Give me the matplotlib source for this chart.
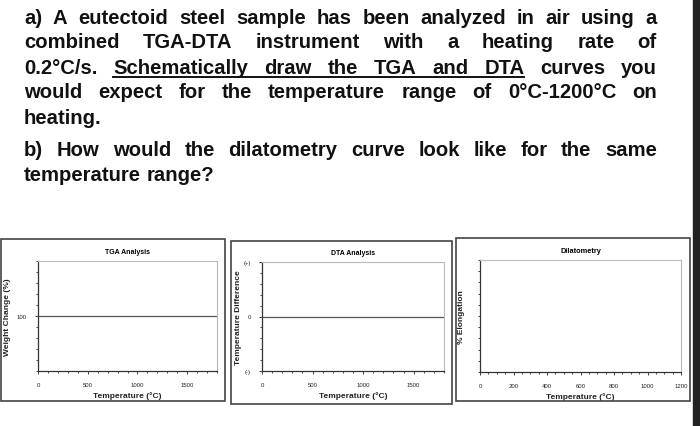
import matplotlib
matplotlib.use("Agg")
import matplotlib.pyplot as plt
from matplotlib.patches import Rectangle
from matplotlib.ticker import MultipleLocator

plt.rcParams['font.family'] = ['Liberation Sans', 'DejaVu Sans']

W, H = 700, 427
lines = [
    ("a) A eutectoid steel sample has been analyzed in air using a", True),
    ("combined TGA-DTA instrument with a heating rate of", True),
    ("0.2°C/s. Schematically draw the TGA and DTA curves you", True),
    ("would expect for the temperature range of 0°C-1200°C on", True),
    ("heating.", False),
    ("b) How would the dilatometry curve look like for the same", True),
    ("temperature range?", False),
]
line_y = [18, 43, 68, 93, 118, 151, 176]
underline_words = {2: (1, 7)}

tga_x = [0, 1800]; tga_y = [100, 100]
tga_xticks = [0, 500, 1000, 1500]
dta_x = [0, 1800]; dta_y = [0, 0]
dta_xticks = [0, 500, 1000, 1500]
dta_yticks = [1, 0, -1]; dta_ylabels = ["(+)", "0", "(-)"]
dil_xticks = [0, 200, 400, 600, 800, 1000, 1200]

fig = plt.figure(figsize=(7, 4.27), dpi=100)
fig.patch.set_facecolor('white')

def px(x, y):
    return x / W, 1 - y / H

renderer = fig.canvas.get_renderer()
x0, x1 = 24, 657
fs = 14.6
def width(s):
    t = fig.text(0, 0, s, fontsize=fs, fontweight='bold')
    w = t.get_window_extent(renderer).width
    t.remove()
    return w
spw = width('a b') - width('ab')
for i, ((txt, just), y) in enumerate(zip(lines, line_y)):
    words = txt.split(' ')
    widths = [width(w) for w in words]
    gap = (x1 - x0 - sum(widths)) / (len(words) - 1) if just else spw
    x = x0
    pos = []
    for w, wd in zip(words, widths):
        fx, fy = px(x, y)
        fig.text(fx, fy, w, fontsize=fs, fontweight='bold', va='center', ha='left', color='#111')
        pos.append((x, wd))
        x += wd + gap
    if i in underline_words:
        a, b = underline_words[i]
        xs = pos[a][0]; xe = pos[b - 1][0] + pos[b - 1][1]
        fig.add_artist(plt.Line2D([xs / W, xe / W], [1 - (y + 10) / H] * 2, color='#111', lw=1.4))

for (bx, by, bw, bh) in [(1, 240, 224, 162), (231, 242, 221, 163), (456, 239, 234, 163)]:
    fig.add_artist(Rectangle((bx / W, 1 - (by + bh) / H), bw / W, bh / H, fill=False,
                             edgecolor='#444', lw=1.2, transform=fig.transFigure))
fig.add_artist(Rectangle((693 / W, 0), 7 / W, 1, color='#222', transform=fig.transFigure))

def mkax(l, t, r, b):
    ax = fig.add_axes([l / W, 1 - b / H, (r - l) / W, (b - t) / H])
    for s in ['top', 'right']:
        ax.spines[s].set_color('#bbb'); ax.spines[s].set_linewidth(0.8)
    for s in ['left', 'bottom']:
        ax.spines[s].set_color('#333'); ax.spines[s].set_linewidth(0.9)
    ax.tick_params(labelsize=4.3, length=2, width=0.6, pad=6, colors='#222')
    ax.tick_params(which='minor', length=1.5, width=0.5)
    return ax

lab = dict(fontsize=6, fontweight='bold', color='#222')

ax1 = mkax(38, 262, 217, 372)
ax1.plot(tga_x, tga_y, color='#555', lw=0.9)
ax1.set_xlim(0, 1800); ax1.set_ylim(0, 200)
ax1.set_xticks(tga_xticks); ax1.set_yticks([100])
ax1.xaxis.set_minor_locator(MultipleLocator(100)); ax1.yaxis.set_minor_locator(MultipleLocator(20))
ax1.set_title("TGA Analysis", fontsize=5, fontweight='bold', pad=6)
ax1.set_xlabel("Temperature (°C)", labelpad=3, **lab)
ax1.set_ylabel("Weight Change (%)", labelpad=4, **lab)

ax2 = mkax(262, 263, 444, 372)
ax2.plot(dta_x, dta_y, color='#555', lw=0.9)
ax2.set_xlim(0, 1800); ax2.set_ylim(-1, 1)
ax2.set_xticks(dta_xticks); ax2.set_yticks(dta_yticks); ax2.set_yticklabels(dta_ylabels)
ax2.xaxis.set_minor_locator(MultipleLocator(100)); ax2.yaxis.set_minor_locator(MultipleLocator(0.2))
ax2.set_title("DTA Analysis", fontsize=5, fontweight='bold', pad=6)
ax2.set_xlabel("Temperature (°C)", labelpad=3, **lab)
ax2.set_ylabel("Temperature Difference", labelpad=1, **lab)

ax3 = mkax(480, 261, 681, 373)
ax3.set_xlim(0, 1200); ax3.set_ylim(0, 10)
ax3.set_xticks(dil_xticks); ax3.set_yticks([])
ax3.xaxis.set_minor_locator(MultipleLocator(50)); ax3.yaxis.set_minor_locator(MultipleLocator(1))
ax3.set_title("Dilatometry", fontsize=5.3, fontweight='bold', pad=6)
ax3.set_xlabel("Temperature (°C)", labelpad=3, **lab)
ax3.set_ylabel("% Elongation", labelpad=6, **lab)

fig.savefig("out.png", dpi=100)
